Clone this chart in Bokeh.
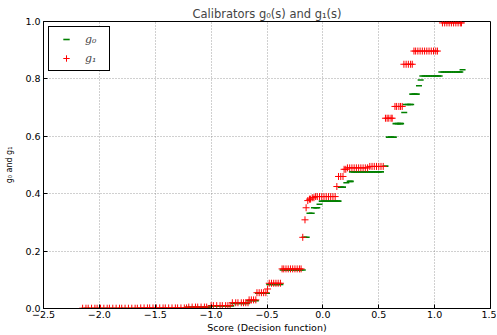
from bokeh.plotting import figure
from bokeh.models import (Range1d, FixedTicker, CustomJSTickFormatter, Legend, LegendItem,
                          ColumnDataSource)
from bokeh.embed import file_html
from bokeh.resources import INLINE

# ---- data: plateau levels and the scores that sit on each level ----
g1_levels = [0.001, 0.002, 0.005, 0.01, 0.02, 0.03, 0.055, 0.068, 0.088, 0.138,
             0.248, 0.309, 0.351, 0.376, 0.381, 0.386, 0.39, 0.425, 0.46,
             0.485, 0.49, 0.495, 0.663, 0.704, 0.851, 0.897, 0.995]
g1_scores = [
    [-2.15, -2.12, -2.1, -2.07, -2.04, -2.02, -1.99, -1.96, -1.93, -1.91, -1.88,
     -1.85, -1.82, -1.8, -1.77, -1.74, -1.71, -1.68, -1.66],
    [-1.63, -1.6, -1.57, -1.55, -1.52, -1.49, -1.46, -1.43, -1.41, -1.38, -1.35,
     -1.32, -1.3, -1.27, -1.24, -1.22],
    [-1.2, -1.17, -1.14, -1.12, -1.09, -1.06, -1.04],
    [-1.0, -0.98, -0.95, -0.92, -0.9, -0.87, -0.85, -0.83],
    [-0.81, -0.78, -0.76, -0.73, -0.71, -0.69, -0.67],
    [-0.66, -0.64, -0.62, -0.6],
    [-0.59, -0.57, -0.55, -0.53, -0.51],
    [-0.495],
    [-0.48, -0.46, -0.44, -0.42, -0.4, -0.38],
    [-0.365, -0.35, -0.33, -0.31, -0.29, -0.27, -0.25, -0.23, -0.21, -0.195],
    [-0.18],
    [-0.16],
    [-0.15],
    [-0.135],
    [-0.12, -0.11],
    [-0.095, -0.08],
    [-0.065, -0.05, -0.03, -0.01, 0.01, 0.03, 0.05, 0.07, 0.09, 0.11],
    [0.125],
    [0.14, 0.16, 0.18],
    [0.19, 0.205],
    [0.22, 0.24, 0.26, 0.28, 0.3, 0.32, 0.34, 0.36, 0.38, 0.4],
    [0.42, 0.44, 0.46, 0.48, 0.5, 0.52, 0.54],
    [0.56, 0.575, 0.59, 0.61, 0.62],
    [0.645, 0.66, 0.68, 0.695, 0.71],
    [0.725, 0.745, 0.765, 0.785, 0.8],
    [0.815, 0.83, 0.85, 0.87, 0.89, 0.91, 0.93, 0.95, 0.97, 0.99, 1.01, 1.025],
    [1.07, 1.09, 1.11, 1.13, 1.15, 1.17, 1.19, 1.21, 1.23, 1.24],
]

g0_levels = [0.0, 0.004, 0.009, 0.018, 0.027, 0.053, 0.084, 0.134, 0.248,
             0.332, 0.351, 0.363, 0.374, 0.423, 0.438, 0.443, 0.476, 0.496,
             0.597, 0.644, 0.683, 0.711, 0.747, 0.776, 0.796, 0.81, 0.824, 0.832]
g0_scores = [
    [-2.14, -2.11, -2.08, -2.05, -2.02, -1.99, -1.96, -1.93, -1.9, -1.87, -1.84,
     -1.81, -1.78, -1.75, -1.72, -1.69, -1.66, -1.63, -1.6, -1.57, -1.54, -1.51,
     -1.48, -1.45, -1.42, -1.39, -1.36, -1.33, -1.3, -1.27, -1.24],
    [-1.21, -1.18, -1.15, -1.12, -1.09, -1.06, -1.03],
    [-1.0, -0.97, -0.94, -0.91, -0.88, -0.85, -0.82],
    [-0.8, -0.77, -0.74, -0.71, -0.68],
    [-0.66, -0.63, -0.6],
    [-0.58, -0.56, -0.54, -0.52, -0.5],
    [-0.48, -0.46, -0.44, -0.42, -0.4, -0.38],
    [-0.36, -0.34, -0.32, -0.3, -0.28, -0.26, -0.24, -0.22, -0.2, -0.18],
    [-0.165, -0.145],
    [-0.12, -0.1],
    [-0.08, -0.06, -0.05],
    [-0.03],
    [-0.01, 0.01, 0.03, 0.05, 0.07, 0.09, 0.11, 0.13, 0.14],
    [0.16, 0.18],
    [0.21],
    [0.24, 0.25],
    [0.26, 0.28, 0.3, 0.32, 0.34, 0.36, 0.38, 0.4, 0.42, 0.44, 0.46, 0.48, 0.5, 0.52],
    [0.56],
    [0.59, 0.61, 0.635],
    [0.65, 0.67, 0.69, 0.7],
    [0.728],
    [0.74, 0.76, 0.78, 0.79],
    [0.8, 0.82, 0.84],
    [0.86],
    [0.875],
    [0.89, 0.91, 0.93, 0.95, 0.97, 0.99, 1.01, 1.03, 1.045],
    [1.06, 1.08, 1.1, 1.12, 1.14, 1.16, 1.18, 1.2, 1.22, 1.23],
    [1.25],
]

x_ticks = [-2.5, -2.0, -1.5, -1.0, -0.5, 0.0, 0.5, 1.0, 1.5]
y_ticks = [0.0, 0.2, 0.4, 0.6, 0.8, 1.0]

# ---- build flat tables ----
def expand(levels, scores):
    xs, ys = [], []
    for lv, ss in zip(levels, scores):
        for s in ss:
            xs.append(s)
            ys.append(lv)
    return xs, ys

x0, y0 = expand(g0_levels, g0_scores)
x1, y1 = expand(g1_levels, g1_scores)
src0 = ColumnDataSource(dict(x=x0, y=y0))
src1 = ColumnDataSource(dict(x=x1, y=y1))

FONT = "DejaVu Sans"

p = figure(width=496, height=335, output_backend="svg", toolbar_location=None,
           x_range=Range1d(-2.5, 1.5), y_range=Range1d(0, 1),
           min_border_left=43, min_border_right=6, min_border_top=21, min_border_bottom=26)

p.title.text = "Calibrators g\u2080(s) and g\u2081(s)"
p.title.align = "center"
p.title.text_font = FONT
p.title.text_font_size = "11.5px"
p.title.text_font_style = "normal"
p.title.standoff = 2

p.outline_line_color = "black"
p.outline_line_width = 1
p.outline_line_alpha = 1

r0 = p.scatter("x", "y", source=src0, marker="dash", size=6, line_color="#008000",
               line_width=1.6)
r1 = p.scatter("x", "y", source=src1, marker="cross", size=7, line_color="#ff0000",
               color="#ff0000", line_width=1)

xax = p.below[0]
yax = p.left[0]
for ax in (xax, yax):
    ax.axis_line_color = "black"
    ax.major_tick_in = 4
    ax.major_tick_out = 0
    ax.minor_tick_line_color = None
    ax.major_label_text_font = FONT
    ax.major_label_text_font_size = "9.5px"
    ax.major_label_text_color = "black"
    ax.axis_label_text_font = FONT
    ax.axis_label_text_font_style = "normal"
    ax.axis_label_text_color = "black"

xax.ticker = FixedTicker(ticks=x_ticks)
yax.ticker = FixedTicker(ticks=y_ticks)
xax.formatter = CustomJSTickFormatter(code="""
    var s = Math.abs(tick).toFixed(1);
    return (tick < -1e-9 ? '\\u2212' : '') + s;
""")
yax.formatter = CustomJSTickFormatter(code="return tick.toFixed(1);")
xax.major_label_standoff = 2
yax.major_label_standoff = 3
xax.axis_label = "Score (Decision function)"
xax.axis_label_text_font_size = "9.5px"
xax.axis_label_standoff = 1
yax.axis_label = "g\u2080 and g\u2081"
yax.axis_label_text_font_size = "8px"
yax.axis_label_standoff = 8

for g in (p.xgrid[0], p.ygrid[0]):
    g.grid_line_color = "#777777"
    g.grid_line_alpha = 0.7
    g.grid_line_dash = "1 2"
    g.grid_line_width = 1
p.xgrid[0].ticker = FixedTicker(ticks=x_ticks)
p.ygrid[0].ticker = FixedTicker(ticks=y_ticks)

legend = Legend(items=[LegendItem(label="g\u2080", renderers=[r0]),
                       LegendItem(label="g\u2081", renderers=[r1])],
                location="top_left", orientation="vertical")
legend.border_line_color = "black"
legend.border_line_width = 1
legend.border_line_alpha = 1
legend.background_fill_alpha = 1
legend.padding = 4
legend.spacing = 3
legend.margin = 5
legend.glyph_width = 26
legend.glyph_height = 16
legend.label_height = 16
legend.label_standoff = 6
legend.label_text_font = "DejaVu Serif"
legend.label_text_font_style = "italic"
legend.label_text_font_size = "11px"
p.add_layout(legend)

open("out.html", "w").write(file_html(p, INLINE))
